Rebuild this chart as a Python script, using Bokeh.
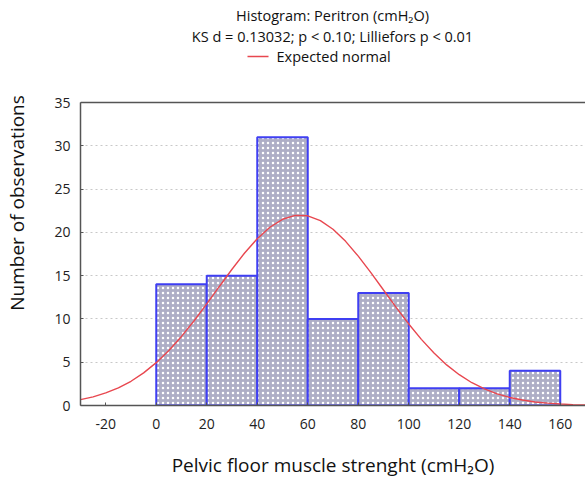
from bokeh.plotting import figure
from bokeh.models import (Span, FixedTicker, Range1d, ColumnDataSource, Label, Arrow)
from bokeh.embed import file_html
from bokeh.resources import INLINE

# ---- data ----
bin_left = [0, 20, 40, 60, 80, 100, 120, 140]
bin_right = [20, 40, 60, 80, 100, 120, 140, 160]
counts = [14, 15, 31, 10, 13, 2, 2, 4]

curve_x = [-30, -25, -20, -15, -10, -5, 0, 5, 10, 15, 20, 25, 30, 35, 40, 45, 50, 55,
           60, 65, 70, 75, 80, 85, 90, 95, 100, 105, 110, 115, 120, 125, 130, 135,
           140, 145, 150, 155, 160, 165, 170]
curve_y = [0.68, 1.0, 1.45, 2.04, 2.8, 3.77, 4.95, 6.36, 7.98, 9.79, 11.73, 13.75,
           15.74, 17.62, 19.27, 20.59, 21.51, 21.96, 21.91, 21.36, 20.36, 18.96,
           17.25, 15.35, 13.34, 11.34, 9.41, 7.64, 6.06, 4.69, 3.56, 2.63, 1.91,
           1.35, 0.93, 0.63, 0.41, 0.27, 0.17, 0.1, 0.06]

x_ticks = [-20, 0, 20, 40, 60, 80, 100, 120, 140, 160]
y_ticks = [0, 5, 10, 15, 20, 25, 30, 35]
y_max = 35

title1 = "Histogram: Peritron (cmH\u2082O)"
title2 = "KS d = 0.13032; p < 0.10; Lilliefors p < 0.01"
legend_text = "Expected normal"
x_label = "Pelvic floor muscle strenght (cmH\u2082O)"
y_label = "Number of observations"

FONT = "Open Sans"
AXIS_COL = "#555555"
TXT = "#111111"
RED = "#e8474f"

# frame spans the full height above the x axis; the data area ends at y_max,
# the band above it holds the titles and the legend entry
p = figure(width=585, height=482, output_backend="svg", toolbar_location=None,
           x_range=Range1d(-30, 170), y_range=Range1d(0, y_max + 102 * y_max / 303),
           min_border_left=80, min_border_right=0, min_border_top=0, min_border_bottom=77)
p.outline_line_color = None
p.background_fill_color = "white"
p.border_fill_color = "white"

src = ColumnDataSource(dict(left=bin_left, right=bin_right, top=counts, bottom=[0] * len(counts)))
p.quad(left="left", right="right", top="top", bottom="bottom", source=src,
       fill_color="#aeaec6", hatch_pattern="dot", hatch_color="white",
       hatch_scale=5, hatch_weight=2.2,
       line_color="#3f3ff2", line_width=2)

p.line(curve_x, curve_y, line_color=RED, line_width=1.4)

# top border of the data area
p.add_layout(Span(location=y_max, dimension="width", line_color=AXIS_COL, line_width=1.5))

# axes
for ax in (p.xaxis[0], p.yaxis[0]):
    ax.axis_line_color = AXIS_COL
    ax.axis_line_width = 1.5
    ax.major_tick_line_color = AXIS_COL
    ax.major_tick_out = 0
    ax.major_tick_in = 3
    ax.minor_tick_line_color = None
    ax.major_label_text_font = FONT
    ax.major_label_text_font_size = "14px"
    ax.major_label_text_color = "#222222"
    ax.axis_label_text_font = FONT
    ax.axis_label_text_font_size = "19px"
    ax.axis_label_text_font_style = "normal"
    ax.axis_label_text_color = TXT

p.yaxis[0].bounds = (0, y_max)
p.xaxis[0].ticker = FixedTicker(ticks=x_ticks)
p.yaxis[0].ticker = FixedTicker(ticks=y_ticks)
p.xaxis[0].major_label_overrides = {t: str(t) for t in x_ticks}
p.xaxis[0].axis_label = x_label
p.yaxis[0].axis_label = y_label
p.xaxis[0].major_label_standoff = 13
p.xaxis[0].axis_label_standoff = 20
p.yaxis[0].major_label_standoff = 10
p.yaxis[0].axis_label_standoff = 21

p.xgrid.grid_line_color = None
p.ygrid.grid_line_color = "#c8c8c8"
p.ygrid.grid_line_dash = "2 3"
p.ygrid.grid_line_width = 1

# titles and legend entry (screen units, relative to the frame's bottom-left)
for txt, yy in ((title1, 390), (title2, 369)):
    p.add_layout(Label(x=252, y=yy, x_units="screen", y_units="screen", text=txt,
                       text_font=FONT, text_font_size="14.5px", text_align="center",
                       text_baseline="middle", text_color=TXT))
p.add_layout(Label(x=196, y=349, x_units="screen", y_units="screen", text=legend_text,
                   text_font=FONT, text_font_size="14.5px", text_align="left",
                   text_baseline="middle", text_color=TXT))
p.add_layout(Arrow(end=None, x_start=167, y_start=349, x_end=188, y_end=349,
                   start_units="screen", end_units="screen",
                   line_color=RED, line_width=1.5))

open("out.html", "w").write(file_html(p, INLINE))
